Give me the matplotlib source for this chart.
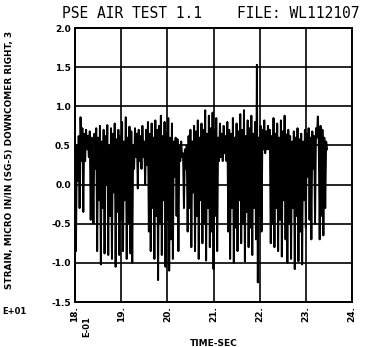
import numpy as np
import matplotlib
matplotlib.use("Agg")
import matplotlib.pyplot as plt

# strain record, one value every 0.02 s from 18.00 s
t_start = 18.0
dt = 0.02
strain = [
    0.45, -0.85, 0.50, 0.05, 0.62, -0.30, 0.86, 0.30, 0.72, -0.35,   # 18.0
    0.65, 0.30, 0.70, 0.45, 0.62, 0.35, 0.68, -0.45, 0.60, 0.25,
    -0.50, 0.65, 0.20, 0.72, -0.85, 0.60, -0.20, 0.75, -1.02, 0.55,
    -0.30, 0.70, -0.88, 0.62, 0.00, 0.76, -0.90, 0.50, -0.40, 0.72,
    -0.95, 0.65, -0.10, 0.78, -1.05, 0.58, -0.35, 0.70, -0.90, 0.62,
    -0.45, 0.80, -0.85, 0.55, -0.20, 0.86, -0.95, 0.60, -0.50, 0.74,  # 19.0
    -0.88, 0.68, -1.00, 0.50, 0.20, 0.72, 0.35, 0.65, -0.05, 0.70,
    0.30, 0.62, 0.20, 0.75, 0.35, 0.55, 0.00, 0.70, 0.25, 0.80,
    -0.60, 0.65, -0.85, 0.78, -0.30, 0.60, -0.95, 0.82, -0.40, 0.70,
    -1.22, 0.75, -0.50, 0.88, -0.90, 0.62, -0.20, 0.80, -1.05, 0.66,
    -0.45, 0.85, -1.10, 0.60, -0.70, 0.78, -0.95, 0.55, 0.10, 0.60,   # 20.0
    -0.40, 0.58, -0.85, 0.50, 0.30, 0.55, 0.35, 0.40, -0.30, 0.45,
    0.20, 0.50, -0.60, 0.62, -0.30, 0.70, -0.80, 0.55, -0.10, 0.75,
    -0.85, 0.68, -0.40, 0.82, -0.95, 0.60, -0.20, 0.78, -0.75, 0.70,
    -0.50, 0.95, -0.97, 0.65, -0.30, 0.88, -0.80, 0.72, -0.60, 0.92,
    -1.08, 0.70, -0.40, 0.85, -0.85, 0.60, 0.30, 0.78, 0.35, 0.65,   # 21.0
    0.30, 0.75, 0.40, 0.62, 0.30, 0.80, -0.60, 0.70, -0.95, 0.65,
    -0.30, 0.85, -1.00, 0.60, -0.55, 0.78, -0.85, 0.68, -0.20, 0.90,
    -0.75, 0.70, -0.50, 0.95, -0.98, 0.62, -0.35, 0.82, -0.80, 0.72,
    -0.55, 0.88, -0.90, 0.65, -0.30, 0.80, -0.70, 1.53, -1.25, 0.60,
    -0.40, 0.75, -0.60, 0.70, 0.45, 0.82, 0.40, 0.68, 0.45, 0.75,    # 22.0
    0.45, 0.70, -0.75, 0.62, -0.50, 0.85, -0.80, 0.65, -0.30, 0.78,
    -0.85, 0.60, -0.45, 0.82, -0.92, 0.68, -0.20, 0.88, -0.70, 0.64,
    -1.00, 0.70, -0.50, 0.62, -0.95, 0.55, -0.30, 0.68, -1.08, 0.60,
    -0.40, 0.72, -0.98, 0.58, -0.60, 0.65, -1.02, 0.55, -0.20, 0.70,
    -0.55, 0.65, 0.10, 0.72, -0.45, 0.60, -0.70, 0.68, 0.20, 0.62,   # 23.0
    -0.50, 0.72, 0.60, 0.87, 0.55, -0.70, 0.75, -0.40, 0.70, -0.65,
    0.60, -0.30, 0.55, 0.45,
]
t = t_start + dt * np.arange(len(strain))

xticks = [18, 19, 20, 21, 22, 23, 24]
xlabels = ["18.", "19.", "20.", "21.", "22.", "23.", "24."]
yticks = [-1.5, -1.0, -0.5, 0.0, 0.5, 1.0, 1.5, 2.0]
ylabels = ["-1.5", "-1.0", "-0.5", "0.0", "0.5", "1.0", "1.5", "2.0"]

W, H = 367, 347
fig = plt.figure(figsize=(W / 100, H / 100), dpi=100)
ax = fig.add_axes([75 / W, 1 - 302 / H, 277 / W, 274 / H])

ax.plot(t, strain, color="black", lw=1.4)

ax.set_xlim(18, 24)
ax.set_ylim(-1.5, 2.0)
ax.set_xticks(xticks)
ax.set_xticklabels(xlabels, rotation=90, fontsize=6.5, fontweight="bold")
ax.set_yticks(yticks)
ax.set_yticklabels(ylabels, fontsize=6.5, fontweight="bold")
ax.tick_params(length=0, pad=3)
ax.grid(True, color="black", lw=1.2)
ax.set_axisbelow(True)
for s in ax.spines.values():
    s.set_linewidth(1.4)

ax.set_xlabel("TIME-SEC", fontsize=6.5, fontweight="bold", labelpad=12)
fig.text(10 / W, 1 - 160 / H, "STRAIN, MICRO IN/IN (SG-5) DOWNCOMER RIGHT, 3",
         rotation=90, ha="center", va="center", fontsize=6.4, fontweight="bold")

fig.text(62 / W, 1 - 13 / H, "PSE AIR TEST 1.1    FILE: WL112107",
         family="DejaVu Sans Mono", fontsize=10.5, ha="left", va="center")
fig.text(2 / W, 1 - 311 / H, "E+01", fontsize=6, fontweight="bold",
         ha="left", va="center")
fig.text(87 / W, 1 - 327 / H, "E-01", fontsize=6, fontweight="bold",
         rotation=90, ha="center", va="center")

fig.savefig("out.png", dpi=100)
